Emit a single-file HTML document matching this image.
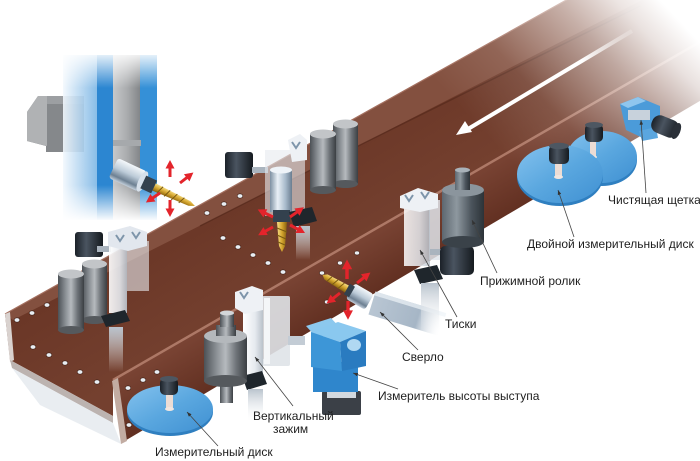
<!DOCTYPE html>
<html><head><meta charset="utf-8"><style>
html,body{margin:0;padding:0;background:#fff;}
svg{display:block;}
text{font-family:"Liberation Sans","DejaVu Sans",sans-serif;font-size:12px;fill:#1e1e1e;}
</style></head><body>
<svg width="700" height="461" viewBox="0 0 700 461" xmlns="http://www.w3.org/2000/svg">
<defs>
<linearGradient id="gLB" x1="0" y1="0" x2="1" y2="0"><stop offset="0" stop-color="#f2f8fd"/><stop offset="1" stop-color="#79b4e4"/></linearGradient>
<linearGradient id="gColGray" x1="0" y1="0" x2="1" y2="0"><stop offset="0" stop-color="#c6c8ca"/><stop offset=".5" stop-color="#aaacae"/><stop offset="1" stop-color="#808386"/></linearGradient>
<linearGradient id="gTopFade" x1="0" y1="0" x2="0" y2="1"><stop offset="0" stop-color="#fff" stop-opacity="1"/><stop offset="1" stop-color="#fff" stop-opacity="0"/></linearGradient>
<linearGradient id="gBotFade" x1="0" y1="0" x2="0" y2="1"><stop offset="0" stop-color="#fff" stop-opacity="0"/><stop offset="1" stop-color="#fff" stop-opacity="1"/></linearGradient>
<linearGradient id="gChrome" x1="0" y1="0" x2="0" y2="1"><stop offset="0" stop-color="#f4f8fb"/><stop offset=".45" stop-color="#bccbd8"/><stop offset=".8" stop-color="#6d8092"/><stop offset="1" stop-color="#c4d0dc"/></linearGradient>
<linearGradient id="gChromeH" x1="0" y1="0" x2="1" y2="0"><stop offset="0" stop-color="#7d90a2"/><stop offset=".35" stop-color="#e9f0f6"/><stop offset=".7" stop-color="#a9bbcc"/><stop offset="1" stop-color="#6a7d90"/></linearGradient>
<linearGradient id="gGold" x1="0" y1="0" x2="0" y2="1"><stop offset="0" stop-color="#f7df86"/><stop offset=".5" stop-color="#d4a52e"/><stop offset="1" stop-color="#86600e"/></linearGradient>
<linearGradient id="gGoldV" x1="0" y1="0" x2="1" y2="0"><stop offset="0" stop-color="#f7df86"/><stop offset=".5" stop-color="#d4a52e"/><stop offset="1" stop-color="#86600e"/></linearGradient>
<linearGradient id="gCyl" x1="0" y1="0" x2="1" y2="0"><stop offset="0" stop-color="#4c5156"/><stop offset=".3" stop-color="#8d9297"/><stop offset=".5" stop-color="#b6babe"/><stop offset=".75" stop-color="#6e7378"/><stop offset="1" stop-color="#3b3f43"/></linearGradient>
<linearGradient id="gDark" x1="0" y1="0" x2="1" y2="0"><stop offset="0" stop-color="#5d6770"/><stop offset=".35" stop-color="#8e989f"/><stop offset=".7" stop-color="#4b545c"/><stop offset="1" stop-color="#2c3338"/></linearGradient>
<linearGradient id="gBlack" x1="0" y1="0" x2="1" y2="0"><stop offset="0" stop-color="#1b2128"/><stop offset=".4" stop-color="#4a5460"/><stop offset="1" stop-color="#151a1f"/></linearGradient>
<linearGradient id="gPlate" x1="0" y1="0" x2="1" y2="0"><stop offset="0" stop-color="#ffffff"/><stop offset=".6" stop-color="#e6eaef"/><stop offset="1" stop-color="#b9c1ca"/></linearGradient>
<linearGradient id="gRod" x1="0" y1="0" x2="0" y2="1"><stop offset="0" stop-color="#b9c3cd"/><stop offset="1" stop-color="#ffffff" stop-opacity="0"/></linearGradient>
<linearGradient id="gDisk" x1="0" y1="0" x2="1" y2="1"><stop offset="0" stop-color="#84c2ee"/><stop offset=".5" stop-color="#5aa7df"/><stop offset="1" stop-color="#3f90d2"/></linearGradient>
<linearGradient id="gFront" x1="300" y1="272" x2="335" y2="332" gradientUnits="userSpaceOnUse"><stop offset="0" stop-color="#7a4434"/><stop offset="1" stop-color="#5c2b1d"/></linearGradient>
<linearGradient id="gWeb" x1="200" y1="200" x2="260" y2="300" gradientUnits="userSpaceOnUse"><stop offset="0" stop-color="#6a3626"/><stop offset="1" stop-color="#74402f"/></linearGradient>
<linearGradient id="gFade" x1="500" y1="150" x2="660" y2="0" gradientUnits="userSpaceOnUse"><stop offset="0" stop-color="#fff" stop-opacity="0"/><stop offset=".3" stop-color="#fff" stop-opacity=".12"/><stop offset=".65" stop-color="#fff" stop-opacity=".55"/><stop offset=".85" stop-color="#fff" stop-opacity=".85"/><stop offset="1" stop-color="#fff" stop-opacity="1"/></linearGradient>
<linearGradient id="gArrow" x1="630" y1="32" x2="470" y2="128" gradientUnits="userSpaceOnUse"><stop offset="0" stop-color="#fff" stop-opacity="0.2"/><stop offset=".3" stop-color="#fff" stop-opacity="1"/><stop offset="1" stop-color="#fff"/></linearGradient>
<linearGradient id="gSpFade" x1="0" y1="0" x2="1" y2="0"><stop offset="0" stop-color="#b9c6d3"/><stop offset=".65" stop-color="#a6b6c6"/><stop offset="1" stop-color="#ffffff" stop-opacity="0"/></linearGradient>
<g id="ra"><path d="M0,0 L10,0" stroke="#e3242b" stroke-width="3"/><path d="M8.5,-4.5 L17,0 L8.5,4.5Z" fill="#e3242b"/></g>
<marker id="ah" viewBox="0 0 8 6" refX="0" refY="3" markerWidth="6" markerHeight="4.5" orient="auto"><path d="M8,0 L0,3 L8,6Z" fill="#333"/></marker>
</defs>

<!-- column motor -->
<path d="M27,112 L38,96 L84,96 L84,152 L46,152 L46,146 L27,141 Z" fill="#85888b"/>
<path d="M27,112 L38,96 L47,96 L47,146 L27,141Z" fill="#b0b2b4"/>
<rect x="47" y="96" width="37" height="8" fill="#9c9fa2"/>
<!-- column -->
<rect x="63" y="55" width="35" height="165" fill="url(#gLB)" opacity=".9"/>
<rect x="97" y="55" width="17" height="165" fill="#2c86d1"/>
<rect x="113" y="55" width="28" height="165" fill="url(#gColGray)"/>
<rect x="140" y="55" width="17" height="165" fill="#3590d7"/>
<rect x="113" y="140" width="28" height="6" fill="#a6a9ac"/>
<rect x="60" y="50" width="100" height="38" fill="url(#gTopFade)"/>
<rect x="60" y="185" width="100" height="36" fill="url(#gBotFade)"/>

<!-- BEAM -->
<polygon points="5,314 720,-86 720,31 113,380 113,416 10,360" fill="url(#gWeb)"/>
<polygon points="5,314 720,-86 720,-40 350,150 13,320" fill="#83503f"/>
<polyline points="200,226 350,150 640,6" fill="none" stroke="#4e2418" stroke-width="1.4" opacity=".55"/>
<line x1="5" y1="314" x2="720" y2="-86" stroke="#a47060" stroke-width="1.2"/>
<polygon points="5,314 10,312 14,360 10,362" fill="#d9d2cf"/>
<polygon points="10,360 113,416 113,423 12,368" fill="#bcb3b0"/>
<polygon points="12,368 113,423 121,444 40,405" fill="#e4e9ee" opacity=".8"/>
<polygon points="113,380 720,31 720,89 123,442" fill="url(#gFront)"/>
<line x1="113" y1="380" x2="720" y2="30.4" stroke="#ad7866" stroke-width="2.5"/>
<polygon points="112,381 118,378 127,441 121,444" fill="#c2aca2"/>
<!-- holes -->
<g fill="#e9eef3" stroke="#3a1a10" stroke-width=".6">
<ellipse cx="17" cy="320" rx="2.8" ry="2.2"/><ellipse cx="32" cy="313" rx="2.8" ry="2.2"/><ellipse cx="47" cy="305" rx="2.8" ry="2.2"/>
<ellipse cx="33" cy="347" rx="2.8" ry="2.2"/><ellipse cx="49" cy="355" rx="2.8" ry="2.2"/><ellipse cx="65" cy="363" rx="2.8" ry="2.2"/><ellipse cx="80" cy="372" rx="2.8" ry="2.2"/><ellipse cx="97" cy="382" rx="2.8" ry="2.2"/>
<ellipse cx="207" cy="213" rx="2.8" ry="2.2"/><ellipse cx="224" cy="204" rx="2.8" ry="2.2"/><ellipse cx="240" cy="196" rx="2.8" ry="2.2"/>
<ellipse cx="223" cy="238" rx="2.8" ry="2.2"/><ellipse cx="238" cy="247" rx="2.8" ry="2.2"/><ellipse cx="253" cy="255" rx="2.8" ry="2.2"/><ellipse cx="268" cy="263" rx="2.8" ry="2.2"/><ellipse cx="283" cy="272" rx="2.8" ry="2.2"/>
<ellipse cx="128" cy="388" rx="2.8" ry="2.2"/><ellipse cx="143" cy="380" rx="2.8" ry="2.2"/><ellipse cx="157" cy="372" rx="2.8" ry="2.2"/><ellipse cx="129" cy="425" rx="2.8" ry="2.2"/>
<ellipse cx="322" cy="273" rx="2.6" ry="2"/><ellipse cx="340" cy="263" rx="2.6" ry="2"/><ellipse cx="357" cy="253" rx="2.6" ry="2"/><ellipse cx="327" cy="302" rx="2.6" ry="2"/>
</g>
<!-- white arrow -->
<line x1="632" y1="31" x2="468" y2="129" stroke="url(#gArrow)" stroke-width="4"/>
<polygon points="456,135 472,132 465,121" fill="#fff"/>
<!-- fade -->
<rect x="430" y="0" width="270" height="250" fill="url(#gFade)"/>

<!-- column spindle -->
<g transform="translate(118,158) rotate(25)">
<rect x="0" y="0" width="32" height="22" rx="3" fill="url(#gChrome)"/>
<ellipse cx="32" cy="11" rx="4" ry="11" fill="#d6e0ea"/>
<rect x="33" y="4" width="12" height="14" fill="#34414d"/>
<polygon points="45,7 84,8.5 90,11 84,13.5 45,15" fill="url(#gGold)"/>
<path d="M53,7 l-3,8 M61,7.3 l-3,8 M69,7.6 l-3,8 M77,8 l-3,7" stroke="#7a5a10" stroke-width="1"/>
</g>

<!-- left back: rollers, motor, vise -->
<rect x="82" y="264" width="25" height="56" fill="url(#gCyl)"/><ellipse cx="94.5" cy="320" rx="12.5" ry="4" fill="#55595d"/><ellipse cx="94.5" cy="264" rx="12.5" ry="4.5" fill="#c2c5c8"/>
<rect x="58" y="274" width="26" height="56" fill="url(#gCyl)"/><ellipse cx="71" cy="330" rx="13" ry="4" fill="#55595d"/><ellipse cx="71" cy="274" rx="13" ry="4.5" fill="#c2c5c8"/>
<rect x="75" y="232" width="28" height="25" rx="3" fill="url(#gBlack)"/>
<rect x="97" y="246" width="14" height="6" fill="#aab4be"/>
<rect x="127" y="241" width="22" height="50" fill="#e7ebf0" opacity=".6"/>
<rect x="109" y="240" width="18" height="73" fill="url(#gPlate)" opacity=".9"/>
<polygon points="108,232 130,226 147,232 147,246 128,251 108,246" fill="#e2e7ee"/>
<path d="M116,235 l4,6 l4,-6 M132,232 l4,6 l4,-6" stroke="#7e95aa" stroke-width="2" fill="none"/>
<polygon points="101,316 125,310 130,321 106,327" fill="#1f262c"/>
<rect x="109" y="327" width="14" height="45" fill="url(#gRod)"/>

<!-- middle back: motor, vise, spindle, rollers -->
<rect x="333" y="124" width="25" height="60" fill="url(#gCyl)"/><ellipse cx="345.5" cy="184" rx="12.5" ry="4" fill="#55595d"/><ellipse cx="345.5" cy="124" rx="12.5" ry="4.5" fill="#c2c5c8"/>
<rect x="310" y="134" width="26" height="56" fill="url(#gCyl)"/><ellipse cx="323" cy="190" rx="13" ry="4" fill="#55595d"/><ellipse cx="323" cy="134" rx="13" ry="4.5" fill="#c2c5c8"/>
<rect x="225" y="152" width="28" height="26" rx="3" fill="url(#gBlack)"/>
<rect x="252" y="167" width="16" height="6" fill="#aab4be"/>
<rect x="265" y="150" width="40" height="66" fill="#e6eaef" opacity=".6"/>
<polygon points="288,140 300,134 307,140 307,160 292,162" fill="#eef1f5"/>
<path d="M292,142 l4,6 l4,-6" stroke="#7e95aa" stroke-width="2" fill="none"/>
<rect x="270" y="170" width="22" height="42" fill="url(#gChromeH)"/>
<ellipse cx="281" cy="170" rx="11" ry="3.5" fill="#eef3f8"/>
<rect x="273" y="210" width="17" height="12" fill="#33414e"/>
<polygon points="277,222 287,222 285,246 282,252 279,246" fill="url(#gGoldV)"/>
<path d="M277,228 l10,4 M277,235 l9,4 M278,242 l7,3" stroke="#7a5a10" stroke-width="1"/>
<polygon points="289,212 312,207 317,221 294,227" fill="#1f262c"/>
<rect x="296" y="226" width="14" height="34" fill="url(#gRod)"/>

<!-- front: vertical clamp & cylinder -->
<rect x="262" y="296" width="28" height="70" rx="2" fill="#dfe3e8" opacity=".9"/>
<rect x="264" y="298" width="6" height="66" fill="#f4f6f8"/>
<rect x="288" y="336" width="17" height="9" fill="#c3ccd5"/>
<rect x="243" y="300" width="20" height="77" fill="url(#gPlate)"/>
<polygon points="235,292 252,286 263,290 263,310 245,314 235,308" fill="#eef1f5"/>
<path d="M240,292 l4,6 l4,-6" stroke="#7e95aa" stroke-width="2" fill="none"/>
<polygon points="242,376 262,371 267,384 247,390" fill="#1f262c"/>
<rect x="248" y="389" width="15" height="34" fill="url(#gRod)"/>
<rect x="220" y="380" width="13" height="23" fill="url(#gCyl)"/>
<rect x="204" y="336" width="43" height="45" fill="url(#gCyl)"/>
<ellipse cx="225.5" cy="381" rx="21.5" ry="6" fill="#55595d"/>
<ellipse cx="225.5" cy="336" rx="21.5" ry="7" fill="#b4b8bc"/>
<rect x="216" y="325" width="20" height="11" fill="url(#gCyl)"/>
<rect x="220" y="313" width="14" height="14" fill="url(#gCyl)"/>
<ellipse cx="227" cy="313" rx="7" ry="2.5" fill="#d3d6d9"/>

<!-- height gauge -->
<polygon points="306,326 331,318 342,330 317,338" fill="#8cc8ee"/>
<rect x="322" y="391" width="39" height="24" rx="2" fill="#3b4047"/>
<rect x="327" y="386" width="29" height="12" fill="#d3d9df"/>
<rect x="313" y="362" width="45" height="30" fill="#2f86cc"/>
<polygon points="311,332 338,322 366,331 340,342" fill="#8ac8ef"/>
<polygon points="311,332 340,342 342,371 311,367" fill="#3d96d7"/>
<polygon points="340,342 366,331 366,366 342,371" fill="#2a7bc0"/>
<ellipse cx="354" cy="345" rx="7" ry="6" fill="#b0d8f2"/>

<!-- front drill -->
<g transform="translate(372,303) rotate(17)">
<rect x="0" y="-12" width="74" height="24" fill="url(#gSpFade)"/>
<rect x="0" y="-12" width="74" height="4" fill="#eef3f8" opacity=".7"/>
</g>
<g transform="translate(352,292) rotate(30)">
<rect x="-2" y="-9" width="22" height="18" rx="3" fill="url(#gChrome)"/>
<rect x="-6" y="-6" width="6" height="12" fill="#33414e"/>
<polygon points="-6,-4 -30,-3 -34,0 -30,3 -6,4" fill="url(#gGold)"/>
<path d="M-11,-4 l-3,8 M-18,-4 l-3,8 M-25,-3 l-2,6" stroke="#7a5a10" stroke-width="1"/>
</g>

<!-- Тиски vise -->
<rect x="429" y="200" width="11" height="60" fill="#dfe4ea" opacity=".85"/>
<rect x="404" y="204" width="26" height="62" fill="url(#gPlate)" opacity=".85"/>
<polygon points="400,196 418,188 438,194 438,208 420,212 400,208" fill="#eef1f5"/>
<path d="M405,195 l4,6 l4,-6 M421,192 l4,6 l4,-6" stroke="#7e95aa" stroke-width="2" fill="none"/>
<polygon points="414,270 437,265 443,279 420,284" fill="#1f262c"/>
<rect x="421" y="283" width="18" height="50" fill="url(#gRod)"/>

<!-- Прижимной ролик -->
<rect x="430" y="249" width="13" height="6" fill="#aab4be"/>
<rect x="440" y="246" width="34" height="29" rx="5" fill="url(#gBlack)"/>
<rect x="442" y="190" width="42" height="52" fill="url(#gDark)"/>
<ellipse cx="463" cy="242" rx="21" ry="6" fill="#3a4249"/>
<ellipse cx="463" cy="190" rx="21" ry="6.5" fill="#8b959d"/>
<rect x="455" y="170" width="15" height="20" fill="url(#gDark)"/>
<ellipse cx="462.5" cy="170" rx="7.5" ry="2.5" fill="#a9b2b9"/>

<!-- disks -->
<ellipse cx="602" cy="160" rx="35" ry="26" fill="#2f7fc0"/>
<ellipse cx="602" cy="157" rx="35" ry="26" fill="url(#gDisk)"/>
<rect x="590" y="140" width="6" height="17" fill="#ecdcd4"/>
<ellipse cx="593" cy="157" rx="4" ry="1.8" fill="#f1e6e0"/>
<rect x="585" y="124" width="18" height="18" rx="5" fill="url(#gBlack)"/>
<ellipse cx="594" cy="125" rx="9" ry="3" fill="#4d5762"/>
<ellipse cx="560" cy="177" rx="43" ry="29" fill="#2f7fc0"/>
<ellipse cx="560" cy="174" rx="43" ry="29" fill="url(#gDisk)"/>
<rect x="555" y="161" width="7" height="16" fill="#ecdcd4"/>
<ellipse cx="558.5" cy="177" rx="4.5" ry="2" fill="#f1e6e0"/>
<rect x="549" y="145" width="20" height="19" rx="5" fill="url(#gBlack)"/>
<ellipse cx="559" cy="146" rx="10" ry="3.2" fill="#4d5762"/>
<ellipse cx="170" cy="412" rx="43" ry="24" fill="#2f7fc0"/>
<ellipse cx="170" cy="409" rx="43" ry="24" fill="url(#gDisk)"/>
<rect x="166" y="393" width="7" height="16" fill="#ecdcd4"/>
<ellipse cx="169.5" cy="409" rx="4.5" ry="2" fill="#f1e6e0"/>
<rect x="160" y="378" width="18" height="17" rx="5" fill="url(#gBlack)"/>
<ellipse cx="169" cy="379" rx="9" ry="3" fill="#4d5762"/>

<!-- cleaning brush -->
<polygon points="620,104 638,97 660,106 660,128 645,139 626,130" fill="#4b9bd9"/>
<polygon points="620,104 638,97 646,101 628,108" fill="#8fc6ee"/>
<rect x="628" y="110" width="22" height="10" fill="#c8d2dc"/>
<polygon points="639,131 656,127 658,138 642,141" fill="#5aa6df"/>
<g transform="translate(654,122) rotate(22)">
<rect x="-2" y="-9" width="28" height="18" rx="8" fill="url(#gBlack)"/>
<ellipse cx="24" cy="0" rx="4" ry="8.5" fill="#2a3038"/>
</g>

<!-- red arrows -->
<use href="#ra" transform="translate(170,177) rotate(-90)"/>
<use href="#ra" transform="translate(180,183) rotate(-38)"/>
<use href="#ra" transform="translate(160,193) rotate(146)"/>
<use href="#ra" transform="translate(170,200) rotate(90)"/>
<use href="#ra" transform="translate(273,217) rotate(206)"/>
<use href="#ra" transform="translate(290,217) rotate(-35)"/>
<use href="#ra" transform="translate(273,227) rotate(151)"/>
<use href="#ra" transform="translate(290,225) rotate(28)"/>
<use href="#ra" transform="translate(347,279) rotate(-90) scale(1.15)"/>
<use href="#ra" transform="translate(357,283) rotate(-38)"/>
<use href="#ra" transform="translate(340,293) rotate(142)"/>
<use href="#ra" transform="translate(348,301) rotate(90) scale(1.1)"/>

<!-- leaders -->
<g stroke="#444" stroke-width=".8" fill="none" marker-start="url(#ah)">
<line x1="641" y1="120" x2="646" y2="193"/>
<line x1="558" y1="190" x2="574" y2="237"/>
<line x1="472" y1="220" x2="497" y2="273"/>
<line x1="420" y1="250" x2="457" y2="317"/>
<line x1="380" y1="312" x2="418" y2="350"/>
<line x1="353" y1="373" x2="398" y2="389"/>
<line x1="255" y1="357" x2="293" y2="406"/>
<line x1="187" y1="412" x2="218" y2="446"/>
</g>

<!-- labels -->
<text x="608" y="204">Чистящая щетка</text>
<text x="527" y="248">Двойной измерительный диск</text>
<text x="480" y="285">Прижимной ролик</text>
<text x="445" y="328">Тиски</text>
<text x="402" y="361">Сверло</text>
<text x="378" y="400">Измеритель высоты выступа</text>
<text x="253" y="420">Вертикальный</text>
<text x="273" y="433">зажим</text>
<text x="155" y="456">Измерительный диск</text>
</svg>
</body></html>
